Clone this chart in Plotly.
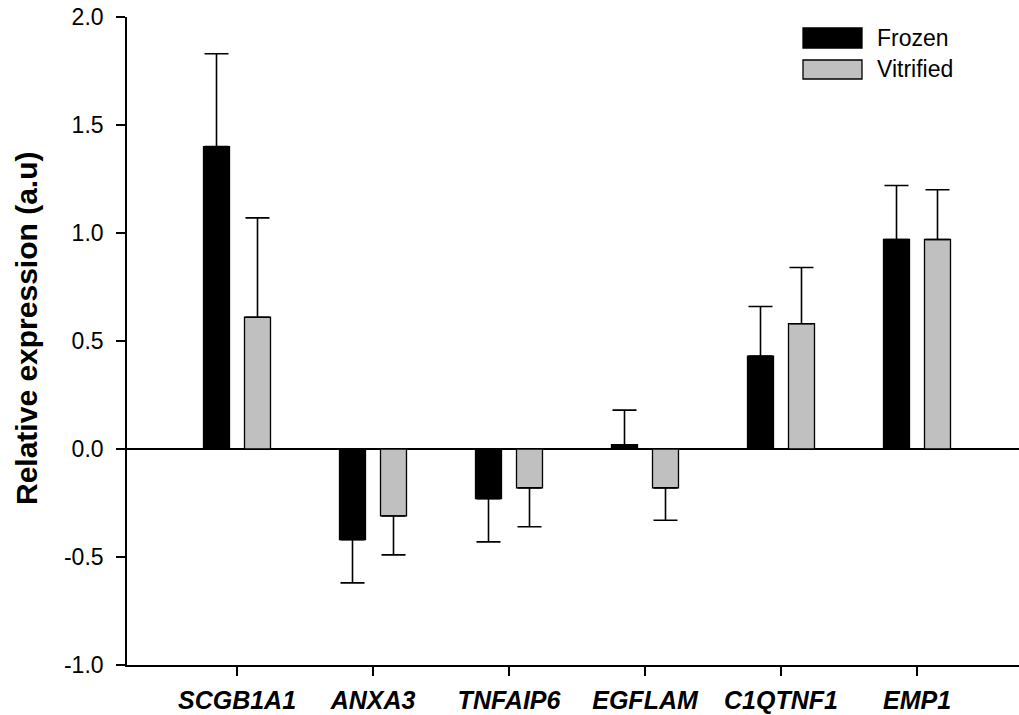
import plotly.graph_objects as go

# Gene expression data (relative expression, a.u.)
genes = ["SCGB1A1", "ANXA3", "TNFAIP6", "EGFLAM", "C1QTNF1", "EMP1"]
frozen = [1.40, -0.42, -0.23, 0.02, 0.43, 0.97]
frozen_err = [0.43, 0.20, 0.20, 0.16, 0.23, 0.25]
vitrified = [0.61, -0.31, -0.18, -0.18, 0.58, 0.97]
vitrified_err = [0.46, 0.18, 0.18, 0.15, 0.26, 0.23]
y_ticks = [-1.0, -0.5, 0.0, 0.5, 1.0, 1.5, 2.0]

W, H = 1019, 715
ML, MR, MT, MB = 127, 0, 17, 50
PW, PH = W - ML - MR, H - MT - MB


def px_x(p):
    return (p - ML) / PW


def px_y(p):
    return (H - MB - p) / PH


def one_sided(vals, errs):
    # error bars only extend away from zero
    up = [e if v >= 0 else 0 for v, e in zip(vals, errs)]
    down = [0 if v >= 0 else e for v, e in zip(vals, errs)]
    return up, down


fig = go.Figure()
for name, vals, errs, fill in [
    ("Frozen", frozen, frozen_err, "#000000"),
    ("Vitrified", vitrified, vitrified_err, "#c0c0c0"),
]:
    up, down = one_sided(vals, errs)
    fig.add_trace(go.Bar(
        name=name,
        x=genes,
        y=vals,
        marker=dict(color=fill, line=dict(color="#000000", width=1.3)),
        error_y=dict(type="data", symmetric=False, array=up, arrayminus=down,
                     color="#000000", thickness=1.6, width=12),
        showlegend=False,
    ))

fig.update_layout(
    width=W, height=H,
    margin=dict(l=ML, r=MR, t=MT, b=MB, autoexpand=False),
    paper_bgcolor="white", plot_bgcolor="white",
    barmode="group", bargap=0.397, bargroupgap=0.366,
    font=dict(family="Liberation Sans, Arial, sans-serif", color="#000000"),
)

fig.update_xaxes(
    type="category",
    range=[-(237 - ML) / 136, -(237 - ML) / 136 + PW / 136],
    showline=True, linecolor="#000000", linewidth=1.6,
    ticks="outside", ticklen=9, tickwidth=1.5, tickcolor="#000000",
    tickfont=dict(size=25, family="Liberation Sans, Arial, sans-serif"),
    ticklabelstandoff=3,
    tickvals=genes,
    ticktext=[f"<b><i>{g}</i></b>" for g in genes],
    showgrid=False, zeroline=False,
)

fig.update_yaxes(
    range=[-1.0, 2.0],
    tickvals=y_ticks,
    ticktext=[f"{v:.1f}" for v in y_ticks],
    showline=True, linecolor="#000000", linewidth=1.6,
    ticks="outside", ticklen=9, tickwidth=1.5, tickcolor="#000000",
    tickfont=dict(size=23),
    ticklabelstandoff=8,
    showgrid=False,
    zeroline=True, zerolinecolor="#000000", zerolinewidth=1.6,
)

# y-axis title
fig.add_annotation(
    text="<b>Relative expression (a.u)</b>",
    xref="paper", yref="paper",
    x=px_x(26), y=px_y(329),
    xanchor="center", yanchor="middle",
    textangle=-90, showarrow=False,
    font=dict(size=30),
)

# legend swatches and labels
for label, fill, top, bottom in [
    ("Frozen", "#000000", 28, 48),
    ("Vitrified", "#c0c0c0", 60, 79),
]:
    fig.add_shape(
        type="rect", xref="paper", yref="paper",
        x0=px_x(803), x1=px_x(862), y0=px_y(bottom), y1=px_y(top),
        fillcolor=fill, line=dict(color="#000000", width=1.3),
    )
    fig.add_annotation(
        text=label, xref="paper", yref="paper",
        x=px_x(875), y=px_y((top + bottom) / 2),
        xanchor="left", yanchor="middle", showarrow=False,
        font=dict(size=23),
    )

fig.write_html("out.html")
